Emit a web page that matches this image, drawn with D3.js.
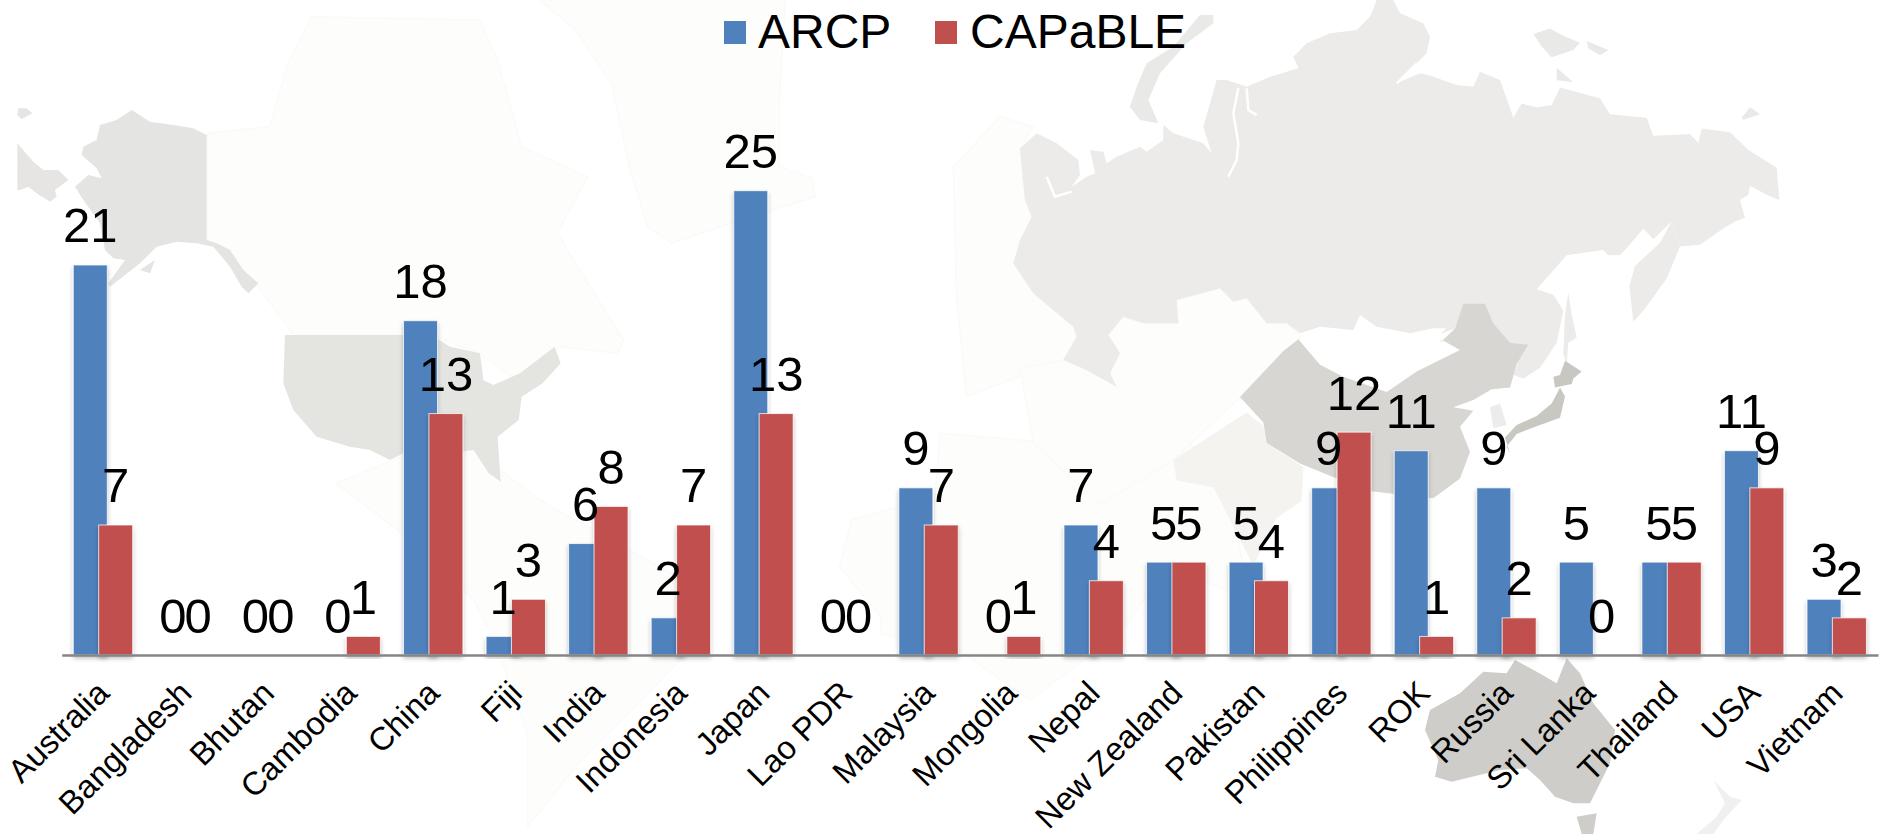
<!DOCTYPE html>
<html><head><meta charset="utf-8">
<script src="https://cdn.jsdelivr.net/npm/d3@7/dist/d3.min.js"></script>
<style>html,body{margin:0;padding:0;background:#fff;overflow:hidden}svg{display:block}text{font-family:"Liberation Sans",Arial,sans-serif;fill:#000}</style>
</head><body><svg id="c" width="1881" height="834"></svg>
<script>
const categories=["Australia","Bangladesh","Bhutan","Cambodia","China","Fiji","India","Indonesia","Japan","Lao PDR","Malaysia","Mongolia","Nepal","New Zealand","Pakistan","Philippines","ROK","Russia","Sri Lanka","Thailand","USA","Vietnam"];
const arcp=[21,0,0,0,18,1,6,2,25,0,9,0,7,5,5,9,11,9,5,5,11,3];
const capable=[7,0,0,1,13,3,8,7,13,0,7,1,4,5,4,12,1,2,0,5,9,2];
const seriesNames=["ARCP","CAPaBLE"];
const seriesColors=["#4F81BD","#C0504D"];

// Background map decoration. Trace frames: origin x, origin y, scale x, scale y
const F={L:[0,0,1.668,3],R:[940,0,1.668,3],a:[0,90,3,3],b:[1000,0,3,3],c:[1360,0,3,2.8],d:[1360,640,3,3],e:[1000,300,3,2.936]};
const faintFill="#FDFDFC",faintEdge="#FAFAF8";
const mapShapes=[
 // Canada + arctic islands
 [faintFill,faintEdge,[["L",[[345,400],[450,380],[480,190],[520,50],[800,60],[830,180],[870,440],[980,530],[930,700],[950,760],[1040,1020],[1030,1060],[935,1040],[860,1140],[800,1060],[720,1005],[490,1005],[430,860],[345,720]]]]],
 // Greenland
 [faintFill,faintEdge,[["L",[[900,0],[1310,0],[1300,300],[1300,500],[1355,535],[1360,590],[1270,640],[1120,730],[1080,680],[1050,500],[1020,250],[960,90]]]]],
 // Central + South America
 [faintFill,faintEdge,[["L",[[670,1370],[790,1350],[900,1500],[1000,1600],[1180,1780],[1150,1950],[1060,2120],[960,2300],[880,2480],[880,2200],[830,1950],[790,1800],[670,1600],[560,1450]]]]],
 // Africa
 [faintFill,faintEdge,[["L",[[1400,1700],[1420,1560],[1560,1490]]],["R",[[0,1300],[260,1340],[300,1380],[400,1280],[480,1500],[520,1800],[380,1700],[300,1900],[150,2100],[30,1950],[-100,1900]]],["L",[[1470,1850]]]]],
 // Europe
 [faintFill,faintEdge,[["b",[[-130,900],[-140,500],[0,350],[100,380],[60,445],[65,500],[75,600],[95,650],[40,790],[100,880],[220,980],[230,1010],[190,1080],[-100,1190]]]]],
 // Central Asia / Middle East
 [faintFill,faintEdge,[["b",[[190,1080],[260,1110],[350,1160],[330,1120],[360,1060],[325,1005],[370,950],[430,970],[535,970],[530,900],[660,865],[700,905],[740,895],[800,970],[860,970],[905,1010],[720,1200]]],["e",[[720,285],[520,470],[300,600],[100,420],[60,200]]]]],
 // India
 ["#F4F3F0","none",[["e",[[520,470],[740,330],[790,370],[800,420],[910,490],[905,590],[830,640],[760,780],[640,550],[530,530]]]]],
 // Russia
 ["#ECEBE9","none",[["b",[[60,445],[110,400],[170,430],[235,480],[240,525],[215,560],[260,530],[285,520],[270,450],[310,455],[320,490],[350,470],[420,440],[440,455],[490,420],[490,375],[520,400],[610,430],[635,460],[610,380],[650,240],[680,240],[740,260],[810,230],[895,205],[880,170],[920,130],[990,100],[1070,90],[1110,50],[1130,0],[1180,0],[1200,40],[1270,70],[1290,110],[1280,160],[1250,190],[1190,250],[1260,220],[1285,225],[1370,255],[1420,260],[1440,215],[1500,240]]],["c",[[460,330],[485,290],[530,300],[575,295],[600,245],[720,275],[750,320],[860,330],[880,380],[990,375],[1015,400],[1025,360],[1110,370],[1165,420],[1250,470],[1258,560],[1220,545],[1170,520],[1165,545],[1140,560],[1155,610],[1125,620],[1090,640],[1020,685],[960,690],[935,620],[880,670],[850,640],[800,695],[780,715],[745,715],[730,700],[620,715],[530,810],[580,825],[610,870],[590,960],[540,1030],[490,1060],[460,1050],[495,965],[450,960],[400,905],[375,850],[310,850],[285,920],[240,935]]],["b",[[1340,985],[1300,985],[1230,1000],[1130,980],[1080,945],[1060,990],[960,980],[900,1000],[860,970],[800,970],[740,895],[700,905],[660,865],[530,900],[535,970],[430,970],[370,950],[325,1005],[360,1060],[330,1120],[350,1160],[260,1110],[190,1080],[230,1010],[220,980],[100,880],[40,790],[60,720],[95,650],[75,600],[65,500]]]]],
 // Kamchatka, Sakhalin, arctic islands
 ["#ECEBE9","none",[["c",[[935,620],[960,690],[920,780],[850,870],[820,900],[808,800],[825,745],[900,680]]]]],
 ["#ECEBE9","none",[["c",[[625,820],[635,880],[650,945],[625,960],[620,1020],[610,990],[615,880]]]]],
 ["#E9E9E7","none",[["b",[[640,45],[600,45],[520,140],[440,190],[410,260],[390,320],[420,360],[475,370],[445,300],[480,220],[560,130],[640,70]]]]],
 ["#E9E9E7","none",[["c",[[520,95],[570,80],[610,100],[660,120],[640,140],[575,160],[545,130]]]]],
 ["#E9E9E7","none",[["c",[[680,115],[745,140],[720,155],[685,135]]]]],
 ["#E9E9E7","none",[["c",[[590,190],[640,230],[590,225]]]]],
 ["#E9E9E7","none",[["c",[[1145,330],[1170,300],[1200,320],[1150,335]]]]],
 // Chukotka tip and Alaska
 ["#E6E5E3","none",[["a",[[52,160],[100,215],[130,240],[175,240],[205,270],[165,300],[170,320],[150,335],[110,310],[85,290],[60,300],[52,300]]]]],
 ["#E6E5E3","none",[["a",[[55,55],[80,55],[97,70],[65,88],[52,75]]]]],
 ["#E4E4E2","none",[["a",[[620,135],[620,450],[650,460],[690,480],[730,540],[775,580],[745,610],[725,590],[690,530],[640,470],[590,460],[530,455],[470,470],[420,520],[330,590],[325,580],[375,510],[340,505],[315,480],[300,400],[250,330],[225,290],[265,255],[305,265],[290,235],[245,195],[250,170],[290,150],[300,105],[350,90],[395,60],[450,95],[520,105],[580,115]]]]],
 ["#E4E4E2","none",[["a",[[420,540],[465,510],[450,550]]]]],
 // Continental USA
 ["#E4E4E1","none",[["a",[[855,735],[1210,735],[1310,745],[1350,770],[1440,790],[1450,870],[1480,885],[1560,850],[1664,770],[1682,820],[1628,880],[1565,920],[1556,990],[1493,1040],[1502,1175],[1466,1150],[1421,1080],[1320,1090],[1210,1090],[1170,1110],[1110,1080],[1050,1070],[950,1040],[880,960],[850,880]]]]],
 // China
 ["#D7D6D2","none",[["c",[[310,850],[375,850],[400,905],[450,960],[505,965],[470,1020],[450,1085],[395,1090],[340,1120],[280,1140],[340,1150],[300,1195],[330,1265],[300,1340],[220,1395]]],["e",[[1100,560],[900,480],[800,420],[790,360],[720,285],[850,150],[895,115],[960,190],[1030,225],[1160,270],[1250,210],[1380,147],[1325,117]]],["c",[[240,960],[285,920]]]]],
 // Korea
 ["#ECECEA","none",[["c",[[390,1140],[420,1130],[440,1190],[400,1200]]]]],
 // Japan
 ["#C8C7C2","none",[["c",[[615,1010],[665,1040],[640,1060],[635,1075],[585,1085],[580,1055],[600,1050]]]]],
 ["#C8C7C2","none",[["c",[[600,1085],[615,1110],[600,1170],[540,1190],[470,1215],[440,1250],[450,1270],[435,1225],[470,1190],[530,1165],[575,1130]]]]],
 // Australia, Tasmania, New Zealand
 ["#CECDC9","none",[["d",[[620,55],[660,100],[700,190],[765,270],[750,370],[690,490],[640,490],[585,470],[540,420],[500,385],[420,390],[275,425],[225,410],[235,360],[195,270],[210,210],[300,160],[370,95],[440,100],[465,60],[530,95],[590,130]]]]],
 ["#CECDC9","none",[["d",[[650,530],[710,520],[700,582],[665,582]]]]],
 ["#F0F0EE","none",[["d",[[1060,420],[1110,470],[1145,480],[1090,540],[1060,582],[1010,582],[1070,530],[1095,490]]]]]
];
// white inlets cut through Russia
const mapInlets=[
 ["b",[[715,265],[700,340],[715,430],[710,480],[685,530]]],
 ["b",[[740,265],[745,330],[770,345]]],
 ["b",[[140,530],[165,590],[215,575]]],
 ["b",[[1190,250],[1250,190]]]
];

const W=1881,H=834,baseY=655,topY=190.7,bandL=61.7,bandR=1878;
const svg=d3.select("#c");
const defs=svg.append("defs");
const f=defs.append("filter").attr("id","sh").attr("x","-30%").attr("y","-10%").attr("width","160%").attr("height","130%");
f.append("feDropShadow").attr("dx",0).attr("dy",3).attr("stdDeviation",2).attr("flood-color","#000").attr("flood-opacity",0.25);

const toPx=(p,k)=>{const t=F[k];return [t[0]+p[0]/t[2],t[1]+p[1]/t[3]];};
const line=d3.line();
const gMap=svg.append("g");
gMap.selectAll("path.land").data(mapShapes).join("path").attr("class","land")
 .attr("d",d=>line(d[2].flatMap(s=>s[1].map(p=>toPx(p,s[0]))))+"Z")
 .attr("fill",d=>d[0]).attr("stroke",d=>d[1]).attr("stroke-width",1.5).attr("stroke-linejoin","round");
gMap.selectAll("path.inlet").data(mapInlets).join("path").attr("class","inlet")
 .attr("d",d=>line(d[1].map(p=>toPx(p,d[0])))).attr("fill","none").attr("stroke","#fff").attr("stroke-width",2.5);

const x=d3.scaleBand().domain(categories).range([bandL,bandR]);
const y=d3.scaleLinear().domain([0,25]).range([baseY,topY]);
const sub=d3.scalePoint().domain(seriesNames).range([-12.7,12.7]);
const barW=34;
const series=[arcp,capable];

const gBars=svg.append("g");
seriesNames.forEach((s,si)=>{
 gBars.append("g").selectAll("rect").data(categories.map((c,i)=>({c,v:series[si][i]})).filter(d=>d.v>0)).join("rect")
  .attr("x",d=>x(d.c)+x.bandwidth()/2+sub(s)-barW/2).attr("y",d=>y(d.v))
  .attr("width",barW).attr("height",d=>baseY-y(d.v))
  .attr("fill",seriesColors[si]).attr("stroke","#fff").attr("stroke-opacity",.75).attr("stroke-width",1)
  .attr("filter","url(#sh)");
});

const axis=d3.axisBottom(x).tickSize(0).tickPadding(0);
const gx=svg.append("g").attr("transform",`translate(0,${baseY})`).call(axis);
gx.select(".domain").attr("stroke","#868686").attr("stroke-width",2.5);
gx.selectAll("text").attr("font-size",32.5).attr("font-family",'"Liberation Sans",Arial,sans-serif')
 .attr("text-anchor","end").attr("dy",0).attr("y",0)
 .attr("transform","translate(8,40) rotate(-45)");

const gL=svg.append("g");
seriesNames.forEach((s,si)=>{
 gL.append("g").selectAll("text").data(categories.map((c,i)=>({c,v:series[si][i]}))).join("text")
  .attr("x",d=>x(d.c)+x.bandwidth()/2+sub(s)).attr("y",d=>y(d.v)-22.5)
  .attr("text-anchor","middle").attr("font-size",49).text(d=>d.v);
});

const lg=svg.append("g");
const legendSwatchX=[724,935],legendTextX=[758,970];
seriesNames.forEach((s,i)=>{
 lg.append("rect").attr("x",legendSwatchX[i]).attr("y",21).attr("width",22).attr("height",23).attr("fill",seriesColors[i]);
 lg.append("text").attr("x",legendTextX[i]).attr("y",48).attr("font-size",48).text(s);
});
</script></body></html>
